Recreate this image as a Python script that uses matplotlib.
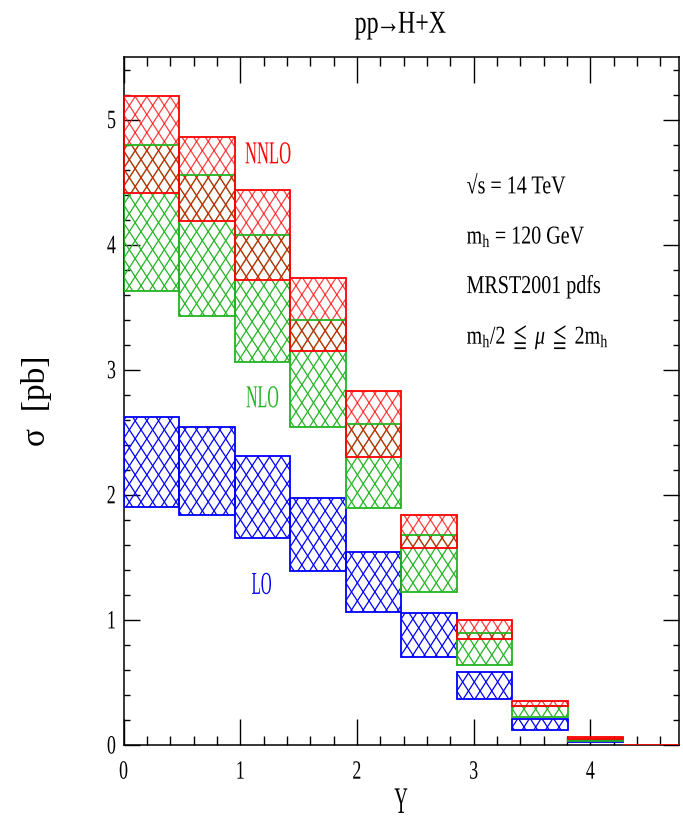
import numpy as np
import matplotlib
matplotlib.use("Agg")
import matplotlib.pyplot as plt
from matplotlib.patches import Rectangle
from matplotlib.collections import LineCollection
from matplotlib.ticker import MultipleLocator
from matplotlib.transforms import Affine2D
from matplotlib.patheffects import AbstractPathEffect

# rapidity bins (0 .. ln(sqrt(s)/m_h))
bin_edges = [0.0, 0.476, 0.952, 1.428, 1.904, 2.380, 2.856, 3.332, 3.808, 4.284, 4.760]

# scale-variation bands, m_h/2 <= mu <= 2 m_h  [pb]
lo_low = [1.906, 1.840, 1.653, 1.394, 1.060, 0.700, 0.370, 0.122, 0.020, 0.0]
lo_high = [2.620, 2.546, 2.310, 1.978, 1.545, 1.056, 0.585, 0.210, 0.030, 0.0]
nlo_low = [3.630, 3.430, 3.060, 2.540, 1.893, 1.225, 0.642, 0.220, 0.035, 0.0]
nlo_high = [4.800, 4.555, 4.080, 3.400, 2.566, 1.681, 0.896, 0.312, 0.045, 0.0]
nnlo_low = [4.415, 4.190, 3.720, 3.146, 2.303, 1.578, 0.850, 0.315, 0.045, 0.0]
nnlo_high = [5.190, 4.860, 4.437, 3.730, 2.829, 1.836, 1.000, 0.355, 0.060, 0.0]

RED = "#ff0000"
GREEN = "#22b422"
BLUE = "#0000ff"

plt.rcParams["font.family"] = ["Liberation Serif", "DejaVu Serif"]
plt.rcParams["mathtext.fontset"] = "custom"
plt.rcParams["mathtext.rm"] = "Liberation Serif"
plt.rcParams["mathtext.it"] = "Liberation Serif:italic"
plt.rcParams["mathtext.fallback"] = "stix"


class Narrow(AbstractPathEffect):
    """Squeeze glyph outlines horizontally (plotter-style narrow lettering)."""

    def __init__(self, sx, centre=False):
        super().__init__()
        self.sx = sx
        self.centre = centre

    def draw_path(self, renderer, gc, tpath, affine, rgbFace=None):
        cx = 0.0
        if self.centre and len(tpath.vertices):
            ext = tpath.get_extents()
            cx = 0.5 * (ext.x0 + ext.x1)
        squeeze = Affine2D().translate(-cx, 0).scale(self.sx, 1).translate(cx, 0)
        renderer.draw_path(gc, tpath, squeeze + affine, rgbFace)


def hatch_box(ax, x0, x1, y0, y1, color, alpha=1.0, dx=0.1, dy=0.144):
    """Outlined box filled with a diamond cross-hatch."""
    rect = Rectangle((x0, y0), x1 - x0, y1 - y0, fill=False, ec=color, lw=1.3, zorder=3)
    ax.add_patch(rect)
    w = x1 - x0
    s = dy / dx
    segs = []
    for n in range(int(np.floor((y0 - s * w) / dy)) - 1, int(np.ceil(y1 / dy)) + 2):
        segs.append([(x0, n * dy), (x1, n * dy + s * w)])
    for m in range(int(np.floor(y0 / dy)) - 1, int(np.ceil((y1 + s * w) / dy)) + 2):
        segs.append([(x0, m * dy), (x1, m * dy - s * w)])
    lc = LineCollection(segs, colors=color, lw=0.9, alpha=alpha, zorder=2)
    ax.add_collection(lc)
    lc.set_clip_path(rect)


fig = plt.figure(figsize=(6.83, 8.25), dpi=100)
ax = fig.add_axes([123.5 / 683, 1 - 745 / 825, (679 - 123.5) / 683, (745 - 57) / 825])

for lows, highs, col, a in [(lo_low, lo_high, BLUE, 1.0),
                            (nlo_low, nlo_high, GREEN, 1.0),
                            (nnlo_low, nnlo_high, RED, 0.75)]:
    for i in range(len(lows)):
        hatch_box(ax, bin_edges[i], bin_edges[i + 1], lows[i], highs[i], col, alpha=a)

ax.set_xlim(bin_edges[0], bin_edges[-1])
ax.set_ylim(0, 5.5)
ax.xaxis.set_major_locator(MultipleLocator(1))
ax.xaxis.set_minor_locator(MultipleLocator(0.2))
ax.yaxis.set_major_locator(MultipleLocator(1))
ax.yaxis.set_minor_locator(MultipleLocator(0.2))
ax.tick_params(which="both", direction="in", top=True, right=True, width=1.0, labelsize=19)
ax.tick_params(axis="x", which="major", length=19, pad=12)
ax.tick_params(axis="x", which="minor", length=6.5)
ax.tick_params(axis="y", which="major", length=11.5, pad=4)
ax.tick_params(axis="y", which="minor", length=4.3)
for sp in ax.spines.values():
    sp.set_linewidth(1.1)

ax.text(0.5, 1.035, r"pp$\!\!\rightarrow\!\!$H+X", transform=ax.transAxes, ha="center",
        va="baseline", fontsize=23, path_effects=[Narrow(0.75, centre=True)])
ax.set_xlabel("Y", fontsize=27, labelpad=2, path_effects=[Narrow(0.5, centre=True)])
ax.set_ylabel("σ  [pb]", fontsize=24, labelpad=38)

ax.text(1.041, 4.65, "NNLO", color=RED, fontsize=23, va="baseline", path_effects=[Narrow(0.52)])
ax.text(1.05, 2.70, "NLO", color=GREEN, fontsize=23, va="baseline", path_effects=[Narrow(0.5)])
ax.text(1.098, 1.208, "LO", color=BLUE, fontsize=23, va="baseline", path_effects=[Narrow(0.47)])

info = ["√s = 14 TeV",
        r"m$_{\rm h}$ = 120 GeV",
        "MRST2001 pdfs",
        r"m$_{\rm h}$/2 $\leqq$ $\mu$ $\leqq$ 2m$_{\rm h}$"]
info_y = [4.41, 4.008, 3.613, 3.208]
for txt, yy in zip(info, info_y):
    ax.text(2.94, yy, txt, fontsize=18.5, va="baseline", path_effects=[Narrow(0.78)])

fig.canvas.draw()
for lbl in ax.get_xticklabels() + ax.get_yticklabels():
    lbl.set_path_effects([Narrow(0.68, centre=True)])

fig.savefig("out.png", dpi=100)
